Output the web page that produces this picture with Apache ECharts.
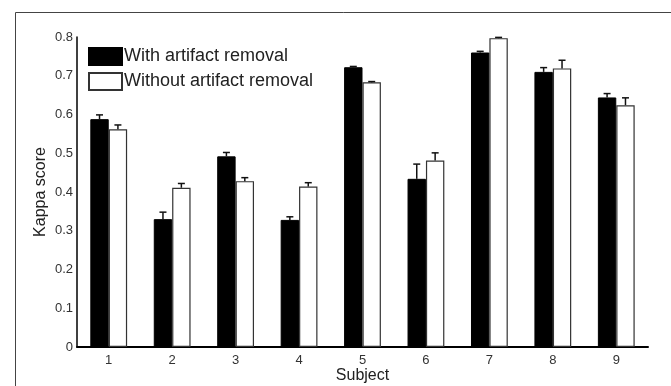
<!DOCTYPE html>
<html>
<head>
<meta charset="utf-8">
<script src="https://cdn.jsdelivr.net/npm/echarts@6/dist/echarts.min.js"></script>
<style>html,body{margin:0;padding:0;background:#fff}#c{width:671px;height:386px}</style>
</head>
<body>
<div id="c"></div>
<script>
const categories = ['1','2','3','4','5','6','7','8','9'];
const withRemoval = [0.588, 0.330, 0.492, 0.328, 0.722, 0.434, 0.760, 0.710, 0.644];
const withRemovalErr = [0.011, 0.018, 0.010, 0.008, 0.002, 0.038, 0.003, 0.011, 0.010];
const withoutRemoval = [0.562, 0.411, 0.428, 0.414, 0.683, 0.481, 0.797, 0.719, 0.624];
const withoutRemovalErr = [0.011, 0.011, 0.009, 0.010, 0.002, 0.020, 0.002, 0.021, 0.019];
const yTicks = [0, 0.1, 0.2, 0.3, 0.4, 0.5, 0.6, 0.7, 0.8];

const BAR_FRAC = 0.29;
function errSeries(vals, errs, side) {
  return {
    type: 'custom',
    z: 5,
    silent: true,
    data: vals.map((v, i) => [i, v, errs[i]]),
    encode: { x: 0, y: 1 },
    renderItem: function (params, api) {
      const idx = api.value(0), v = api.value(1), e = api.value(2);
      const base = api.coord([idx, v]);
      const top = api.coord([idx, v + e]);
      const bw = api.size([1, 0])[0];
      const x = base[0] + side * bw * BAR_FRAC / 2;
      const st = { stroke: '#111', lineWidth: 1.5 };
      return {
        type: 'group',
        children: [
          { type: 'line', shape: { x1: x, y1: base[1], x2: x, y2: top[1] }, style: st },
          { type: 'line', shape: { x1: x - 3.5, y1: top[1], x2: x + 3.5, y2: top[1] }, style: st }
        ]
      };
    }
  };
}

const chart = echarts.init(document.getElementById('c'));
chart.setOption({
  animation: false,
  backgroundColor: '#fff',
  textStyle: { fontFamily: 'Liberation Sans, Arial, sans-serif' },
  graphic: [{
    type: 'rect', left: 13, top: 10, z: 0,
    shape: { width: 657, height: 420 },
    style: { fill: 'none', stroke: '#444', lineWidth: 1 }
  }],
  grid: { left: 77, right: 23, top: 37, bottom: 39, outerBoundsMode: 'none', containLabel: false },
  legend: {
    data: ['With artifact removal', 'Without artifact removal'],
    orient: 'vertical', left: 88, top: 47, padding: 0,
    itemWidth: 33, itemHeight: 17, itemGap: 6,
    icon: 'rect',
    textStyle: { fontSize: 18, color: '#222', padding: [0, 0, 0, -3] }
  },
  xAxis: {
    type: 'category', data: categories,
    name: 'Subject', nameLocation: 'middle', nameGap: 21, nameMoveOverlap: false,
    nameTextStyle: { fontSize: 16, color: '#222' },
    axisLine: { lineStyle: { color: '#000', width: 2 } },
    axisTick: { show: false },
    axisLabel: { fontSize: 13, color: '#333', margin: 7 }
  },
  yAxis: {
    type: 'value', min: 0, max: 0.8, interval: 0.1,
    name: 'Kappa score', nameLocation: 'middle', nameGap: 28, nameMoveOverlap: false,
    nameTextStyle: { fontSize: 16, color: '#222' },
    axisLine: { show: true, lineStyle: { color: '#000', width: 1.5 } },
    axisTick: { show: false },
    splitLine: { show: false },
    axisLabel: {
      fontSize: 13, color: '#333', margin: 4,
      formatter: v => { const t = yTicks.find(k => Math.abs(k - v) < 1e-9); return t === 0 ? '0' : String(Math.round(t * 10) / 10); }
    }
  },
  series: [
    {
      name: 'With artifact removal', type: 'bar', data: withRemoval,
      barWidth: (BAR_FRAC * 100) + '%', barGap: '0%',
      itemStyle: { color: '#000', borderColor: '#000', borderWidth: 1 }
    },
    {
      name: 'Without artifact removal', type: 'bar', data: withoutRemoval,
      barWidth: (BAR_FRAC * 100) + '%', barGap: '0%',
      itemStyle: { color: '#fff', borderColor: '#333', borderWidth: 1.2 }
    },
    errSeries(withRemoval, withRemovalErr, -1),
    errSeries(withoutRemoval, withoutRemovalErr, 1)
  ]
});
</script>
</body>
</html>
